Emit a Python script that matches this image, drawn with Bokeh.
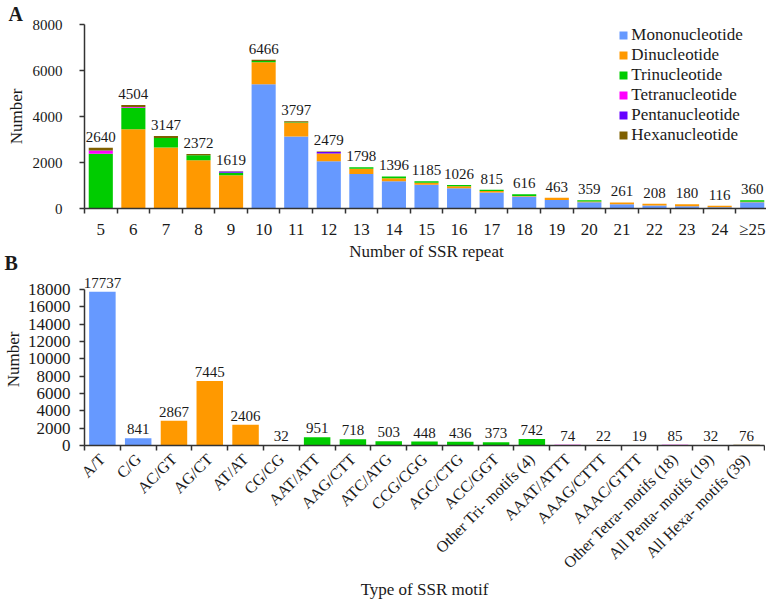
import math
from bokeh.plotting import figure
from bokeh.models import (ColumnDataSource, Range1d, FixedTicker, Title)
from bokeh.core.properties import value
from bokeh.layouts import column
from bokeh.embed import file_html
from bokeh.resources import INLINE

# ---------------- Data: panel A ----------------
repeat_labels = ["5", "6", "7", "8", "9", "10", "11", "12", "13", "14", "15",
                 "16", "17", "18", "19", "20", "21", "22", "23", "24", "≥25"]
repeat_totals = [2640, 4504, 3147, 2372, 1619, 6466, 3797, 2479, 1798, 1396, 1185,
                 1026, 815, 616, 463, 359, 261, 208, 180, 116, 360]
mono = [0, 0, 0, 0, 0, 5400, 3130, 2050, 1500, 1180, 1030,
        880, 700, 520, 370, 270, 190, 130, 100, 50, 270]
di = [0, 3450, 2650, 2100, 1450, 960, 600, 340, 230, 130, 90,
      90, 60, 20, 93, 30, 71, 78, 80, 66, 20]
tri = [2380, 930, 420, 210, 100, 50, 20, 0, 68, 86, 65,
       56, 55, 76, 0, 59, 0, 0, 0, 0, 70]
tetra = [130, 30, 0, 0, 0, 0, 0, 0, 0, 0, 0,
         0, 0, 0, 0, 0, 0, 0, 0, 0, 0]
penta = [10, 0, 0, 0, 60, 0, 0, 70, 0, 0, 0,
         0, 0, 0, 0, 0, 0, 0, 0, 0, 0]
hexa = [120, 94, 77, 62, 9, 56, 47, 19, 0, 0, 0,
        0, 0, 0, 0, 0, 0, 0, 0, 0, 0]

series_names = ["Mononucleotide", "Dinucleotide", "Trinucleotide",
                "Tetranucleotide", "Pentanucleotide", "Hexanucleotide"]
series_colors = ["#6699FF", "#FF9900", "#00CC00", "#FF00FF", "#6600FF", "#7F6000"]

# ---------------- Data: panel B ----------------
motif_labels = ["A/T", "C/G", "AC/GT", "AG/CT", "AT/AT", "CG/CG", "AAT/ATT",
                "AAG/CTT", "ATC/ATG", "CCG/CGG", "AGC/CTG", "ACC/GGT",
                "Other Tri- motifs (4)", "AAAT/ATTT", "AAAG/CTTT", "AAAC/GTTT",
                "Other Tetra- motifs (18)", "All Penta- motifs (19)",
                "All Hexa- motifs (39)"]
motif_counts = [17737, 841, 2867, 7445, 2406, 32, 951, 718, 503, 448, 436, 373,
                742, 74, 22, 19, 85, 32, 76]
motif_class = ["Mononucleotide"] * 2 + ["Dinucleotide"] * 4 + ["Trinucleotide"] * 7 + \
              ["Tetranucleotide"] * 4 + ["Pentanucleotide"] + ["Hexanucleotide"]

FONT = "Liberation Serif"
TXT = "#1a1a1a"
AX = "#333333"


def style_axis(ax, tick_size, label_size="17px"):
    ax.axis_line_color = AX
    ax.axis_line_width = 1.5
    ax.major_tick_line_color = AX
    ax.minor_tick_line_color = AX
    ax.major_tick_line_width = 1.5
    ax.minor_tick_line_width = 1.5
    ax.major_label_text_font = FONT
    ax.major_label_text_color = TXT
    ax.major_label_text_font_size = tick_size
    ax.axis_label_text_font = FONT
    ax.axis_label_text_font_style = "normal"
    ax.axis_label_text_font_size = label_size
    ax.axis_label_text_color = TXT


def panel_letter(text, offset):
    return Title(text=text, align="left", offset=offset, standoff=0,
                 text_font=FONT, text_font_size="20px", text_font_style="bold",
                 text_color=TXT)


# ---------------- Panel A ----------------
nA = len(repeat_labels)
xA = [i + 1 for i in range(nA)]
srcA = ColumnDataSource(dict(x=xA, Mononucleotide=mono, Dinucleotide=di,
                             Trinucleotide=tri, Tetranucleotide=tetra,
                             Pentanucleotide=penta, Hexanucleotide=hexa,
                             total=repeat_totals,
                             total_txt=[str(v) for v in repeat_totals]))

FA_W, FA_H = 684, 184
p1 = figure(frame_width=FA_W, frame_height=FA_H, x_range=Range1d(0.5, nA + 0.5),
            y_range=Range1d(0, 8000), output_backend="svg", toolbar_location=None,
            title=panel_letter("A", -76),
            min_border_left=76, min_border_right=1, min_border_top=0,
            min_border_bottom=40)
p1.outline_line_color = None
p1.grid.visible = False

p1.vbar_stack(series_names, x="x", width=0.74, color=series_colors,
              line_color=None, source=srcA, legend_label=series_names)
p1.text(x="x", y="total", text="total_txt", source=srcA, text_align="center",
        text_baseline="bottom", y_offset=-6, text_font=value(FONT),
        text_font_size=value("15px"), text_color=TXT)

p1.xaxis.ticker = FixedTicker(ticks=xA, minor_ticks=[i + 0.5 for i in range(nA + 1)])
p1.xaxis.major_label_overrides = {x: l for x, l in zip(xA, repeat_labels)}
p1.xaxis.major_tick_out = 0
p1.xaxis.major_tick_in = 0
p1.xaxis.minor_tick_out = 5
p1.xaxis.minor_tick_in = 0
p1.xaxis.major_label_standoff = 6
p1.xaxis.axis_label = "Number of SSR repeat"
p1.xaxis.axis_label_standoff = 0

p1.yaxis.ticker = FixedTicker(ticks=[0, 2000, 4000, 6000, 8000])
p1.yaxis.major_tick_out = 5
p1.yaxis.major_tick_in = 0
p1.yaxis.minor_tick_out = 0
p1.yaxis.major_label_standoff = 17
p1.yaxis.axis_label = "Number"
p1.yaxis.axis_label_standoff = 4

style_axis(p1.xaxis[0], "17px")
style_axis(p1.yaxis[0], "15px")

lg = p1.legend[0]
lg.location = (537, 63)
lg.border_line_color = None
lg.background_fill_alpha = 0
lg.label_text_font = FONT
lg.label_text_font_size = "17px"
lg.label_text_color = TXT
lg.glyph_width = 10
lg.glyph_height = 10
lg.label_height = 16
lg.label_standoff = 3
lg.spacing = 0
lg.padding = 0
lg.margin = 0

# ---------------- Panel B ----------------
nB = len(motif_labels)
xB = [i + 1 for i in range(nB)]
color_of = dict(zip(series_names, series_colors))
srcB = ColumnDataSource(dict(x=xB, count=motif_counts,
                             count_txt=[str(v) for v in motif_counts],
                             color=[color_of[c] for c in motif_class]))

FB_W, FB_H = 680, 172
Y_TOP = 18000
y_end = Y_TOP * FB_H / 156.0   # headroom above the axis end for the value labels
p2 = figure(frame_width=FB_W, frame_height=FB_H, x_range=Range1d(0.5, nB + 0.5),
            y_range=Range1d(0, y_end), output_backend="svg", toolbar_location=None,
            title=panel_letter("B", -80),
            min_border_left=80, min_border_right=1, min_border_top=0,
            min_border_bottom=140)
p2.margin = (-14, 0, 0, 0)
p2.border_fill_color = None
p2.background_fill_color = None
p2.outline_line_color = None
p2.grid.visible = False
p2.vbar(x="x", top="count", width=0.74, color="color", line_color=None, source=srcB)
p2.text(x="x", y="count", text="count_txt", source=srcB, text_align="center",
        text_baseline="bottom", y_offset=-4, text_font=value(FONT),
        text_font_size=value("15px"), text_color=TXT)

p2.xaxis.ticker = FixedTicker(ticks=xB, minor_ticks=[i + 0.5 for i in range(nB + 1)])
p2.xaxis.major_label_overrides = {x: l for x, l in zip(xB, motif_labels)}
p2.xaxis.major_label_orientation = math.pi / 4
p2.xaxis.major_tick_out = 0
p2.xaxis.major_tick_in = 0
p2.xaxis.minor_tick_out = 5
p2.xaxis.minor_tick_in = 0
p2.xaxis.major_label_standoff = 6
p2.xaxis.axis_label = "Type of SSR motif"
p2.xaxis.axis_label_standoff = 0

p2.yaxis.ticker = FixedTicker(ticks=list(range(0, Y_TOP + 1, 2000)))
p2.yaxis.bounds = (0, Y_TOP)
p2.yaxis.major_tick_out = 5
p2.yaxis.major_tick_in = 0
p2.yaxis.minor_tick_out = 0
p2.yaxis.major_label_standoff = 9
p2.yaxis.axis_label = "Number"
p2.yaxis.axis_label_standoff = 2

style_axis(p2.xaxis[0], "16px")
style_axis(p2.yaxis[0], "17px")

layout = column(p1, p2, spacing=0)
open("out.html", "w").write(file_html(layout, INLINE))
